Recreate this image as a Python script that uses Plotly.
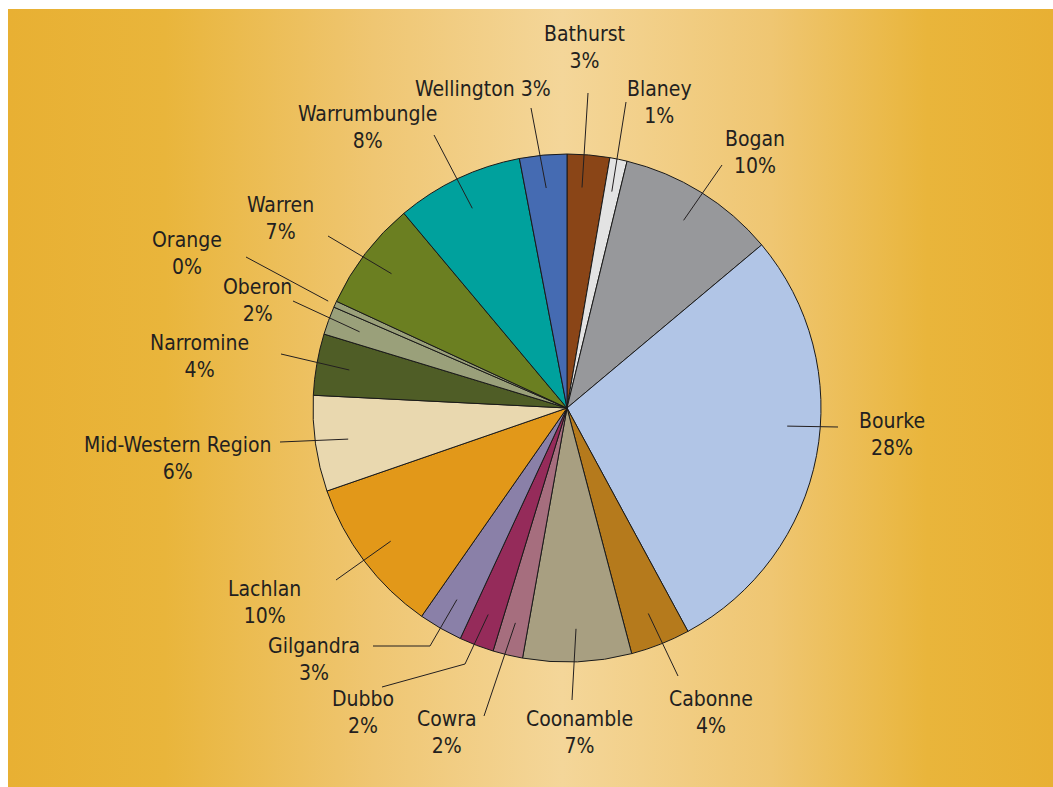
import math
import plotly.graph_objects as go

# ---------------- data ----------------
councils = ["Bathurst", "Blaney", "Bogan", "Bourke", "Cabonne", "Coonamble", "Cowra",
            "Dubbo", "Gilgandra", "Lachlan", "Mid-Western Region", "Narromine", "Oberon",
            "Orange", "Warren", "Warrumbungle", "Wellington"]
shares = [2.7, 1.1, 10.1, 28.2, 3.8, 6.9, 1.9, 2.2, 2.8, 10.0, 6.1, 3.9, 1.8, 0.4, 7.0, 8.1, 3.0]
slice_colors = ["#8A4517", "#E3E3E3", "#97989B", "#B1C5E6", "#B57A1C", "#A89F81", "#A66E7E",
                "#952B5A", "#8A80A8", "#E29819", "#E9D8AF", "#4F5D26", "#9AA07A", "#9AA07A",
                "#6B7F21", "#00A19D", "#456BB2"]

# ---------------- layout / style ----------------
W, H = 1053, 787
CX, CY, R = 567, 408, 254          # pie centre and radius (pixels)
FONT = "DejaVu Sans Condensed, Liberation Sans Narrow, sans-serif"
TXT = "#231F20"
GOLD = "#E8B033"

# label placement (pixel centre of the text block), leader-line outer points
label_pos = {
    "Bathurst": (584, 47), "Blaney": (659, 102), "Bogan": (755, 152), "Bourke": (892, 434),
    "Cabonne": (711, 712), "Coonamble": (579, 732), "Cowra": (447, 732), "Dubbo": (363, 712),
    "Gilgandra": (314, 659), "Lachlan": (264, 602), "Mid-Western Region": (177, 458),
    "Narromine": (199, 356), "Oberon": (257, 300), "Orange": (187, 253), "Warren": (280, 218),
    "Warrumbungle": (367, 127), "Wellington": (483, 89),
}
leader_pts = {
    "Bathurst": [(588, 93)], "Blaney": [(626, 102)], "Bogan": [(722, 165)], "Bourke": [(838, 427)],
    "Cabonne": [(678, 676)], "Coonamble": [(572, 700)], "Cowra": [(484, 716)],
    "Dubbo": [(465, 664), (382, 687)], "Gilgandra": [(430, 646), (373, 646)],
    "Lachlan": [(336, 580)], "Mid-Western Region": [(280, 442)], "Narromine": [(281, 354)],
    "Oberon": [(293, 301)], "Orange": [(246, 257)], "Warren": [(328, 236)],
    "Warrumbungle": [(434, 135)], "Wellington": [(531, 108)],
}
inner_frac = {"Orange": 1.03}
anchor_frac = {"Bourke": 0.44, "Bathurst": 0.4}
one_line = {"Wellington"}

fig = go.Figure()

# background panel with horizontal gradient
fig.add_trace(go.Scatter(
    x=[8, W, W, 8, 8], y=[9, 9, H, H, 9], mode="lines", fill="toself",
    line=dict(width=0), hoverinfo="skip", showlegend=False,
    fillgradient=dict(type="horizontal", colorscale=[
        [0.0, GOLD], [0.15, "#E9B53B"], [0.35, "#EFC672"], [0.53, "#F4D699"],
        [0.73, "#EFC672"], [0.88, "#E9B53B"], [1.0, GOLD]]),
))

fig.add_trace(go.Pie(
    labels=councils, values=shares, sort=False, direction="clockwise", rotation=0,
    marker=dict(colors=slice_colors, line=dict(color="#1A1A1A", width=1)),
    textinfo="none", hoverinfo="label+percent", showlegend=False,
    domain=dict(x=[(CX - R) / W, (CX + R) / W], y=[(H - CY - R) / H, (H - CY + R) / H]),
))

total = sum(shares)
cum = 0.0
# white page border on the left and top (paper itself is gold)
shapes = [
    dict(type="rect", xref="paper", yref="paper", x0=-0.01, x1=8 / W, y0=-0.01, y1=1.01,
         fillcolor="white", line=dict(width=0), layer="below"),
    dict(type="rect", xref="paper", yref="paper", x0=-0.01, x1=1.01, y0=1 - 9 / H, y1=1.01,
         fillcolor="white", line=dict(width=0), layer="below"),
]
annotations = []
for name, v in zip(councils, shares):
    ang = (cum + v * anchor_frac.get(name, 0.5)) / total * 2 * math.pi
    cum += v
    rf = inner_frac.get(name, 0.87)
    x0 = CX + rf * R * math.sin(ang)
    y0 = CY - rf * R * math.cos(ang)
    pts = [(x0, y0)] + leader_pts[name]
    path = "M " + " L ".join(f"{px:.1f},{py:.1f}" for px, py in pts)
    shapes.append(dict(type="path", path=path, xref="x", yref="y", layer="above",
                       line=dict(color=TXT, width=1)))
    pct = f"{round(v)}%"
    text = f"{name} {pct}" if name in one_line else f"{name}<br>{pct}"
    lx, ly = label_pos[name]
    annotations.append(dict(x=lx, y=ly, xref="x", yref="y", text=text, showarrow=False,
                            xanchor="center", yanchor="middle", align="center",
                            font=dict(family=FONT, size=21, color=TXT)))

fig.update_layout(
    width=W, height=H, margin=dict(l=0, r=0, t=0, b=0),
    paper_bgcolor=GOLD, plot_bgcolor="rgba(0,0,0,0)",
    xaxis=dict(range=[0, W], visible=False, fixedrange=True, domain=[0, 1]),
    yaxis=dict(range=[H, 0], visible=False, fixedrange=True, domain=[0, 1]),
    shapes=shapes, annotations=annotations,
)

fig.write_html("out.html", config={"displayModeBar": False},
               post_script="document.body.style.margin='0';document.body.style.overflow='hidden';"
                           "document.documentElement.style.background='" + GOLD + "';")
